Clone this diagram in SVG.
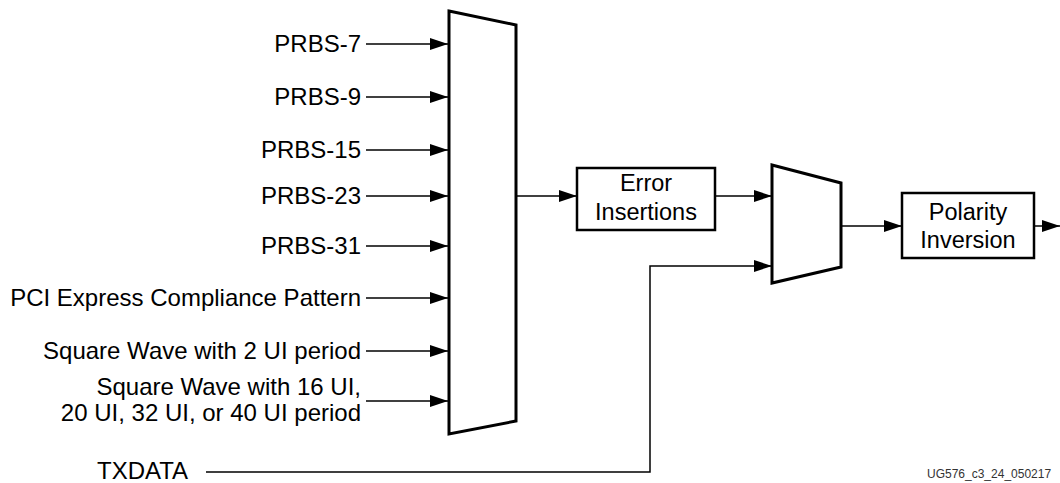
<svg xmlns="http://www.w3.org/2000/svg" width="1060" height="483" viewBox="0 0 1060 483">
<style>
text{font-family:"Liberation Sans",Arial,sans-serif;fill:#000}
.lbl{font-size:24px;text-anchor:end}
.ctr{font-size:23.5px;text-anchor:middle}
.wire{fill:none;stroke:#000;stroke-width:1.5}
.mux{fill:#fff;stroke:#000;stroke-width:3;stroke-linejoin:miter}
.box{fill:#fff;stroke:#000;stroke-width:2.5}
</style>
<defs>
<marker id="ah" markerUnits="userSpaceOnUse" markerWidth="18" markerHeight="12" refX="18" refY="6" orient="auto">
<path d="M0,0 L18,6 L0,12 Z" fill="#000"/>
</marker>
</defs>
<g id="connectors">
<line class="wire" x1="366" y1="44" x2="448" y2="44" marker-end="url(#ah)"/>
<line class="wire" x1="366" y1="97" x2="448" y2="97" marker-end="url(#ah)"/>
<line class="wire" x1="366" y1="150" x2="448" y2="150" marker-end="url(#ah)"/>
<line class="wire" x1="366" y1="196" x2="448" y2="196" marker-end="url(#ah)"/>
<line class="wire" x1="366" y1="246" x2="448" y2="246" marker-end="url(#ah)"/>
<line class="wire" x1="366" y1="298" x2="448" y2="298" marker-end="url(#ah)"/>
<line class="wire" x1="366" y1="351" x2="448" y2="351" marker-end="url(#ah)"/>
<line class="wire" x1="366" y1="401" x2="448" y2="401" marker-end="url(#ah)"/>
<line class="wire" x1="516" y1="196" x2="577" y2="196" marker-end="url(#ah)"/>
<line class="wire" x1="715" y1="196" x2="772" y2="196" marker-end="url(#ah)"/>
<polyline class="wire" points="206,472 650,472 650,266 772,266" marker-end="url(#ah)"/>
<line class="wire" x1="841" y1="226" x2="902" y2="226" marker-end="url(#ah)"/>
<line class="wire" x1="1034" y1="226" x2="1060" y2="226" marker-end="url(#ah)"/>
</g>
<g id="inputs">
<text class="lbl" x="361" y="52">PRBS-7</text>
<text class="lbl" x="361" y="105">PRBS-9</text>
<text class="lbl" x="361" y="158">PRBS-15</text>
<text class="lbl" x="361" y="204">PRBS-23</text>
<text class="lbl" x="361" y="254">PRBS-31</text>
<text class="lbl" x="361" y="306">PCI Express Compliance Pattern</text>
<text class="lbl" x="361" y="359">Square Wave with 2 UI period</text>
<text class="lbl" x="361" y="395">Square Wave with 16 UI,</text>
<text class="lbl" x="361" y="421">20 UI, 32 UI, or 40 UI period</text>
</g>
<g id="txdata">
<text x="97" y="479" style="font-size:24px">TXDATA</text>
</g>
<g id="pattern-mux">
<polygon class="mux" points="449,11 516,25 516,421 449,434"/>
</g>
<g id="error-insertions">
<rect class="box" x="577" y="168" width="138" height="62"/>
<text class="ctr" x="646" y="191">Error</text>
<text class="ctr" x="646" y="220">Insertions</text>
</g>
<g id="output-mux">
<polygon class="mux" points="772,165 841,183 841,267 772,283"/>
</g>
<g id="polarity-inversion">
<rect class="box" x="902" y="193" width="132" height="65"/>
<text class="ctr" x="968" y="220">Polarity</text>
<text class="ctr" x="968" y="248">Inversion</text>
</g>
<text x="927" y="478" style="font-size:12px;fill:#333">UG576_c3_24_050217</text>
</svg>
